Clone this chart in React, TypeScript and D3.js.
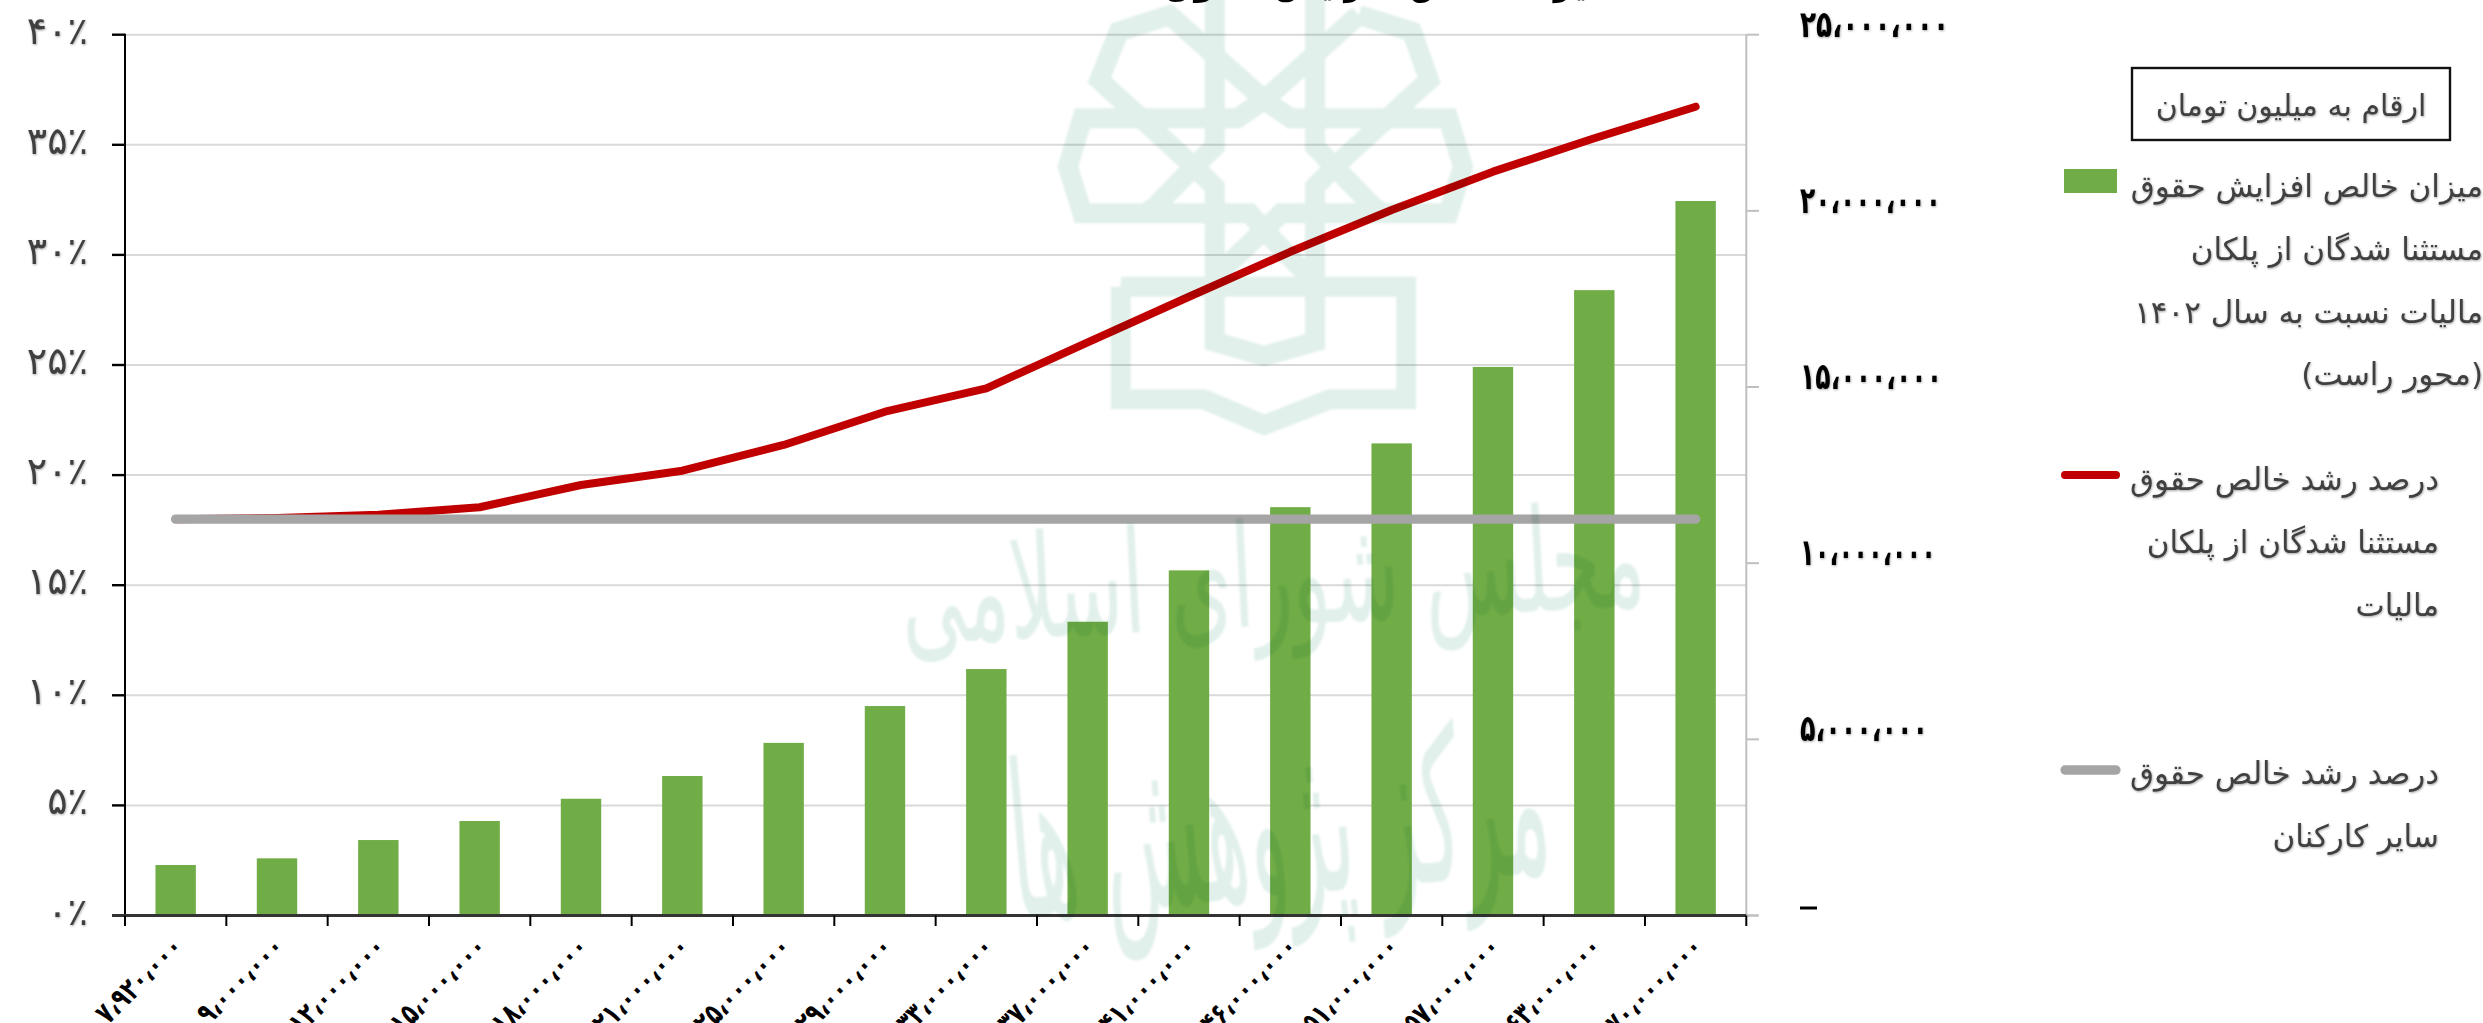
import React from "react";
import * as d3 from "d3";

const W = 2483, H = 1023;
const categories = [7920000, 9000000, 12000000, 15000000, 18000000, 21000000, 25000000, 29000000, 33000000, 37000000, 41000000, 46000000, 51000000, 57000000, 63000000, 70000000];
const netIncrease = [1433000, 1623000, 2142000, 2682000, 3314000, 3960000, 4900000, 5945000, 6995000, 8337000, 9796000, 11590000, 13400000, 15570000, 17750000, 20280000];
const exemptGrowth = [18.0, 18.05, 18.2, 18.54, 19.55, 20.2, 21.37, 22.88, 23.94, 26.03, 28.1, 30.14, 32.04, 33.78, 35.3, 36.73];
const otherGrowth = [18, 18, 18, 18, 18, 18, 18, 18, 18, 18, 18, 18, 18, 18, 18, 18];
const pctTicks = [0, 5, 10, 15, 20, 25, 30, 35, 40];
const valTicks = [5000000, 10000000, 15000000, 20000000, 25000000];
const valLabelWidths = [128, 136, 142, 141, 149];
const boxText = "ارقام به میلیون تومان";
const titleText = "میزان خالص افزایش حقوق مستثنا شدگان";
const legendGreen = ["میزان خالص افزایش حقوق", "مستثنا شدگان از پلکان", "مالیات نسبت به سال ۱۴۰۲", "(محور راست)"];
const legendRed = ["درصد رشد خالص حقوق", "مستثنا شدگان از پلکان", "مالیات"];
const legendGrey = ["درصد رشد خالص حقوق", "سایر کارکنان"];
const watermarkTop = "مجلس شورای اسلامی";
const watermarkBottom = "مرکز پژوهش ها";

const FONT = "'DejaVu Sans'";
const GREEN = "#70AD47", RED = "#C00000", GREY = "#A5A5A5", TXT = "#404040", WM = "#E1F0EA";

const fa = (s: string) => s.replace(/\d/g, (d) => "۰۱۲۳۴۵۶۷۸۹"[+d]).replace(/,/g, "،");
const fmt = (n: number) => fa(d3.format(",")(n));
const xLabelLen = (n: number) => String(n).length * 13.7 + 12.6;

const left = 125, right = 1746.3, base = 915.5, top = 34.7;
const step = (right - left) / categories.length;
const cx = (i: number) => left + step * (i + 0.5);
const yP = d3.scaleLinear().domain([0, 40]).range([base, top]);
const yV = d3.scaleLinear().domain([0, 25000000]).range([base, top]);
const line = d3.line<number>().x((_, i) => cx(i)).y((d) => yP(d));

// watermark logo traced in zoom-crop space
const wx = (p: number) => 1000 + p / 2.063;
const wy = (p: number) => p / 3;
const wmPaths: [number, number][][] = [
  [[443, -60], [443, 440], [400, 500], [320, 620], [300, 640]],
  [[650, -60], [650, 440], [690, 500], [770, 620], [790, 640]],
  [[740, 45], [850, 95], [885, 240], [690, 500], [650, 560], [650, 1025], [545, 1068], [443, 1025], [443, 560], [400, 500], [205, 240], [245, 95], [350, 45], [545, 300], [600, 355], [925, 355], [955, 500], [925, 640], [580, 640], [545, 690], [443, 830]],
  [[740, 45], [545, 300], [490, 355], [170, 355], [140, 500], [170, 640], [515, 640], [545, 690], [650, 850]],
  [[249, 860], [838, 860], [838, 1198], [680, 1198], [545, 1275], [420, 1198], [249, 1198], [249, 860]],
];
const wmLine = d3.line<[number, number]>().x((d) => wx(d[0])).y((d) => wy(d[1]));

const tl = (arr: string[], xr: number, ys: number[], size: number) =>
  arr.map((t, i) => (
    <text key={i} x={xr} y={ys[i]} textAnchor="start" direction="rtl" fontSize={size} fill={TXT} filter="url(#soft)">{t}</text>
  ));

export default function App() {
  return (
    <svg width={W} height={H} viewBox={`0 0 ${W} ${H}`} style={{ position: "absolute", left: 0, top: 0, display: "block", background: "#fff" }} fontFamily={FONT}>
      <defs>
        <filter id="soft" x="-5%" y="-20%" width="110%" height="140%"><feDropShadow dx="0.6" dy="1" stdDeviation="0.8" floodColor="#000" floodOpacity="0.35" /></filter>
        <filter id="wmblur"><feGaussianBlur stdDeviation="1.3" /></filter>
      </defs>

      {/* gridlines */}
      {pctTicks.slice(1).map((t) => (
        <line key={t} x1={left} x2={right} y1={yP(t)} y2={yP(t)} stroke="#D9D9D9" strokeWidth={2} />
      ))}

      {/* bars */}
      {netIncrease.map((v, i) => (
        <rect key={i} x={cx(i) - 20.2} width={40.4} y={yV(v)} height={base - yV(v)} fill={GREEN} />
      ))}

      {/* right axis */}
      <line x1={right} x2={right} y1={top} y2={base} stroke="#BFBFBF" strokeWidth={2} />
      {[0, ...valTicks].map((t) => (
        <line key={t} x1={right} x2={1759} y1={yV(t)} y2={yV(t)} stroke="#BFBFBF" strokeWidth={2} />
      ))}
      {valTicks.map((t, i) => (
        <text key={t} x={1800} y={yV(t) + 2} fontSize={37} fontWeight="bold" fill="#000" textLength={valLabelWidths[i]} lengthAdjust="spacingAndGlyphs" filter="url(#soft)">{fmt(t)}</text>
      ))}
      <line x1={1800} x2={1817} y1={908} y2={908} stroke="#000" strokeWidth={3} />

      {/* left axis */}
      <line x1={left} x2={left} y1={top - 1} y2={base + 10} stroke="#000" strokeWidth={2} />
      {pctTicks.map((t) => (
        <g key={t}>
          <line x1={112} x2={left} y1={yP(t)} y2={yP(t)} stroke="#000" strokeWidth={2.4} />
          <text x={88} y={yP(t) + 9} textAnchor="end" fontSize={38} fill={TXT} filter="url(#soft)" direction="ltr">{fa(String(t)) + "٪"}</text>
        </g>
      ))}

      {/* bottom axis */}
      <line x1={left - 13} x2={right} y1={base} y2={base} stroke="#333" strokeWidth={3} />
      <line x1={right} x2={1758} y1={base} y2={base} stroke="#BFBFBF" strokeWidth={2} />
      {d3.range(categories.length + 1).map((i) => (
        <line key={i} x1={left + step * i} x2={left + step * i} y1={base} y2={926} stroke="#000" strokeWidth={2} />
      ))}
      {categories.map((c, i) => (
        <text key={i} transform={`translate(${cx(i) + 2},${942}) rotate(-45)`} dy="0.32em" textAnchor="end" fontSize={30} fontWeight="bold" fill="#000" direction="ltr" textLength={xLabelLen(c)} lengthAdjust="spacingAndGlyphs">{fmt(c)}</text>
      ))}

      {/* lines */}
      <path d={line(exemptGrowth) ?? ""} fill="none" stroke={RED} strokeWidth={8} strokeLinecap="round" strokeLinejoin="round" />
      <path d={line(otherGrowth) ?? ""} fill="none" stroke={GREY} strokeWidth={9.3} strokeLinecap="round" strokeLinejoin="round" />

      {/* watermark */}
      <g style={{ mixBlendMode: "multiply" }} filter="url(#wmblur)">
        {wmPaths.map((p, i) => (
          <path key={i} d={wmLine(p) ?? ""} fill="none" stroke={WM} strokeWidth={20} strokeLinejoin="miter" />
        ))}
        <text transform="translate(1275,625) rotate(-3) scale(0.72,1.3)" textAnchor="middle" direction="rtl" fontSize={110} fill={WM}>{watermarkTop}</text>
        <text transform="translate(1285,895) rotate(-5) scale(0.62,1.65)" textAnchor="middle" direction="rtl" fontSize={130} fill={WM}>{watermarkBottom}</text>
      </g>

      {/* clipped title */}
      <text x={1266} y={-5} textAnchor="middle" direction="rtl" fontSize={33} fontWeight="bold" fill="#000">{titleText}</text>

      {/* unit box */}
      <rect x={2132} y={68} width={318} height={72} fill="#fff" stroke="#111" strokeWidth={2.4} />
      <text x={2291} y={116} textAnchor="middle" direction="rtl" fontSize={30} fill={TXT} filter="url(#soft)">{boxText}</text>

      {/* legend */}
      <rect x={2064} y={169} width={53} height={24} fill={GREEN} />
      {tl(legendGreen, 2483, [197, 260, 323, 385], 31)}
      <line x1={2065} x2={2116} y1={475} y2={475} stroke={RED} strokeWidth={8} strokeLinecap="round" />
      {tl(legendRed, 2439, [490, 553, 616], 31)}
      <line x1={2065} x2={2116} y1={770} y2={770} stroke={GREY} strokeWidth={9.3} strokeLinecap="round" />
      {tl(legendGrey, 2439, [784, 847], 31)}
    </svg>
  );
}
